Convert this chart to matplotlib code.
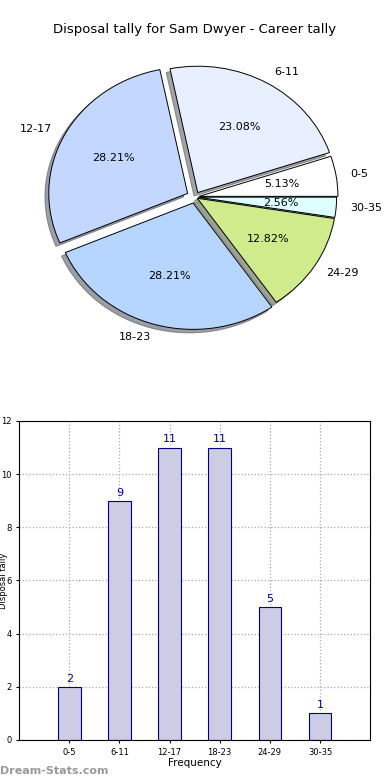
import matplotlib
matplotlib.use("Agg")
import matplotlib.pyplot as plt

categories = ["0-5", "6-11", "12-17", "18-23", "24-29", "30-35"]
counts = [2, 9, 11, 11, 5, 1]
slice_colors = ["#ffffff", "#e8f0ff", "#c4d8ff", "#b7d6ff", "#cfeb8b", "#ddffff"]
explode = [0.03, 0.04, 0.06, 0.05, 0.02, 0.02]

fig = plt.figure(figsize=(3.9, 7.8), dpi=100)

# pie (elliptical, like the old matplotlib output)
ax1 = fig.add_axes([0.055, 0.545, 0.89, 0.405])
wedges, texts, autotexts = ax1.pie(
    counts, labels=categories, colors=slice_colors, explode=explode,
    autopct="%1.2f%%", shadow=True, startangle=0, counterclock=True,
    wedgeprops=dict(edgecolor="black", linewidth=0.7),
    textprops=dict(fontsize=8))
ax1.set_aspect("auto")
ax1.set_xlim(-1.25, 1.25)
ax1.set_ylim(-1.25, 1.25)
fig.text(0.5, 1 - 30 / 780, "Disposal tally for Sam Dwyer - Career tally",
         ha="center", va="center", fontsize=9.5)

# bars
ax2 = fig.add_axes([0.049, 0.0513, 0.9, 0.409])
xs = list(range(len(categories)))
ax2.bar(xs, counts, width=0.45, color="#ccccE4", edgecolor="#000080", linewidth=0.8, zorder=2)
for x, c in zip(xs, counts):
    ax2.text(x, c + 0.12, str(c), ha="center", va="bottom", fontsize=8, color="#0000aa")
ax2.set_xlim(-1, 6)
ax2.set_ylim(0, 12)
ax2.set_xticks(xs)
ax2.set_xticklabels(categories)
ax2.set_yticks(range(0, 13, 2))
ax2.tick_params(labelsize=6, length=2)
ax2.grid(True, ls=":", color="#aaaaaa", lw=0.9, zorder=0)
ax2.set_axisbelow(True)
ax2.set_xlabel("Frequency", fontsize=7.5, labelpad=1)
ax2.set_ylabel("Disposal tally", fontsize=6)
ax2.yaxis.set_label_coords(-0.033, 0.5)

fig.text(0.0, 1 - 771 / 780, "Dream-Stats.com", ha="left", va="center",
         fontsize=8, color="#999999", fontweight="semibold")

fig.savefig("out.png", dpi=100)
